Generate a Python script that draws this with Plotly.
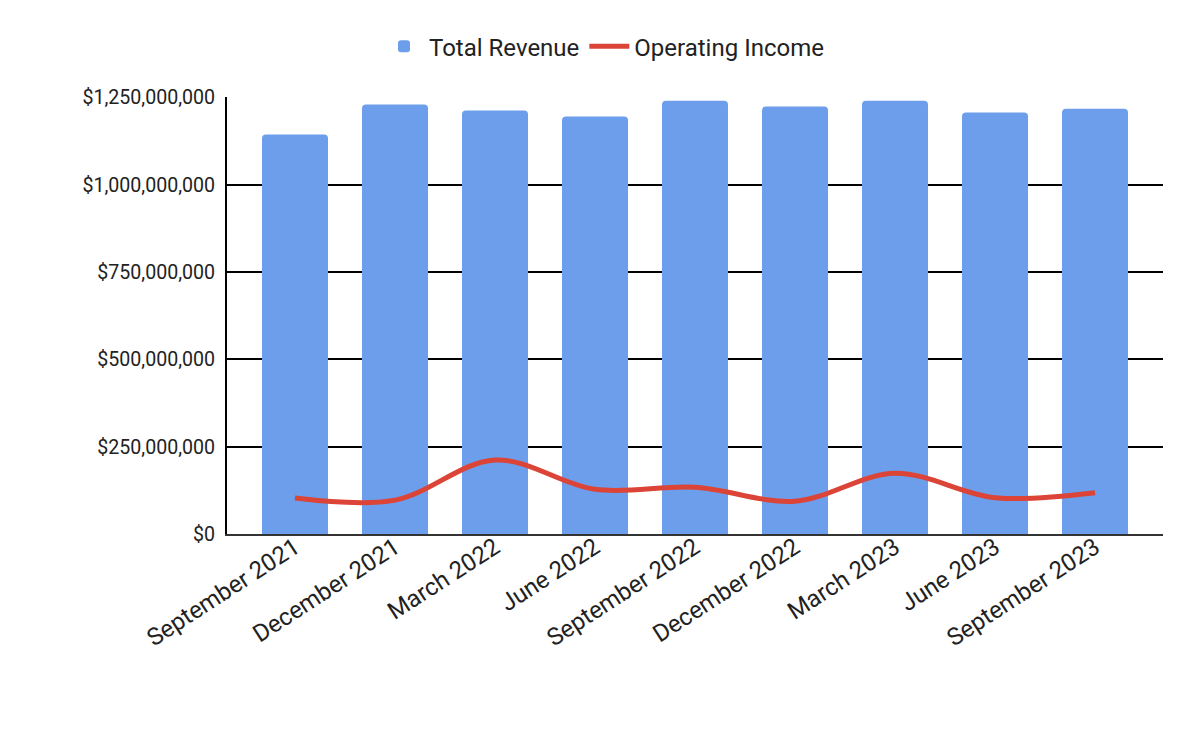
import plotly.graph_objects as go

quarters = ["September 2021", "December 2021", "March 2022", "June 2022",
            "September 2022", "December 2022", "March 2023", "June 2023",
            "September 2023"]
total_revenue = [1144e6, 1230e6, 1213e6, 1196e6, 1241e6, 1224e6, 1241e6, 1207e6, 1218e6]
operating_income = [103e6, 97e6, 212e6, 128e6, 134e6, 94e6, 174e6, 104e6, 118e6]

fig = go.Figure()

fig.add_trace(go.Bar(
    x=quarters, y=total_revenue, name="Total Revenue",
    marker=dict(color="#6d9eeb", cornerradius=4, line_width=0),
    width=0.66,
))

fig.add_trace(go.Scatter(
    x=quarters, y=operating_income, name="Operating Income",
    mode="lines", line=dict(color="#db4437", width=5, shape="spline", smoothing=1),
))

# page body adds 8px offset, so size/margins are compensated
fig.update_layout(
    width=1192, height=733,
    font=dict(family="Roboto", size=19.6, color="#222222"),
    paper_bgcolor="white", plot_bgcolor="white",
    margin=dict(l=219, r=37, t=89, b=207),
    legend=dict(orientation="h", x=0.5, xanchor="center", xref="container",
                y=0.978, yanchor="top", yref="container",
                font=dict(size=24, color="#222222"), itemwidth=40),
    showlegend=True,
)

fig.update_xaxes(
    tickangle=-33, tickfont=dict(size=24, color="#222222"),
    range=[-0.68, 8.68], showline=True, linecolor="#333333", linewidth=2,
    showgrid=False, ticks="", ticklabelstandoff=-12,
)
fig.update_yaxes(
    range=[0, 1.2515e9], tick0=0, dtick=250e6, tickprefix="$", tickformat=",d",
    showgrid=True, gridcolor="black", gridwidth=2,
    showline=True, linecolor="black", linewidth=2,
    ticklabelstandoff=6, zeroline=False,
)

fig.write_html("out.html")
